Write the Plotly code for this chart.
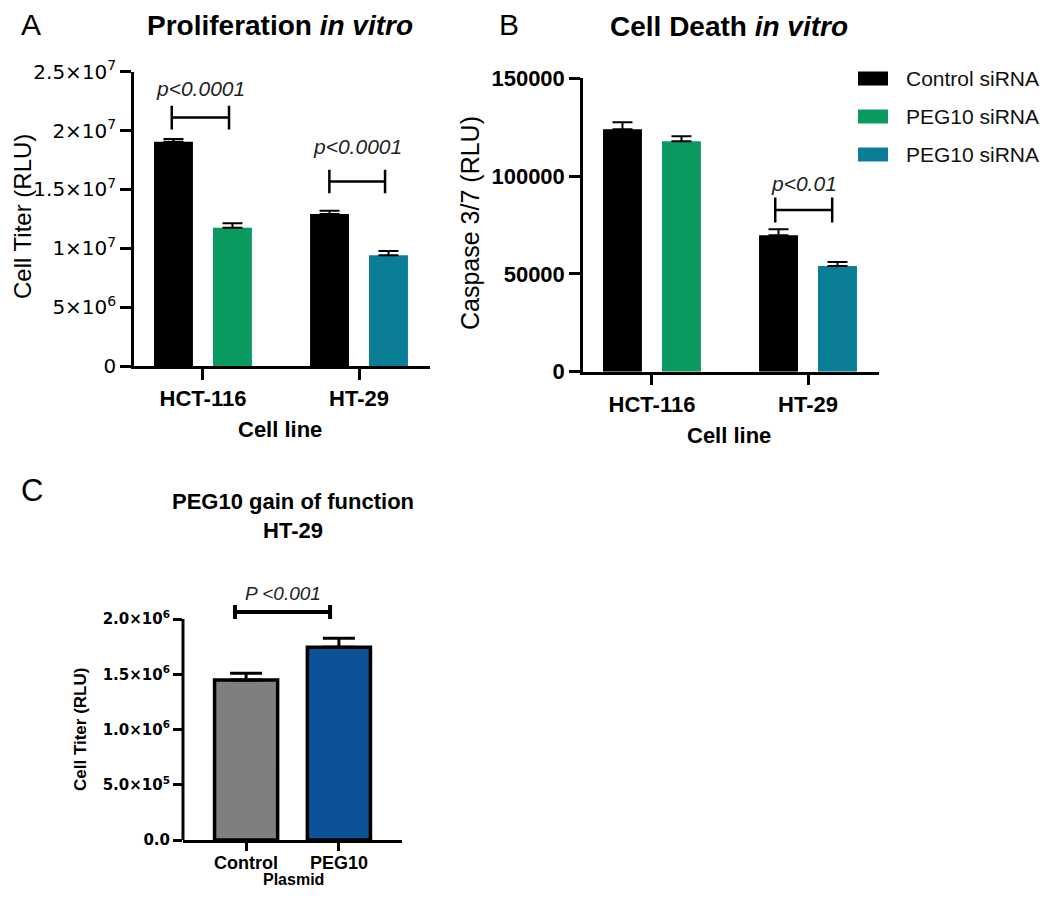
import plotly.graph_objects as go

# The page adds an 8 px body margin, so the figure is sized to fit inside it
OFF = 8
W, H = 1050 - 2 * OFF, 897 - 2 * OFF
FONT = "Liberation Sans"
WIDE = "DejaVu Sans"

# ---------------- data ----------------
cell_lines = ["HCT-116", "HT-29"]
legend_names = ["Control siRNA", "PEG10 siRNA", "PEG10 siRNA"]

# Panel A: proliferation (Cell Titer, RLU)
prolif_control = [1.905e7, 1.291e7]
prolif_control_err = [2.3e5, 2.8e5]
prolif_peg10_hct = [1.175e7]
prolif_peg10_hct_err = [3.7e5]
prolif_peg10_ht = [0.940e7]
prolif_peg10_ht_err = [3.7e5]

# Panel B: cell death (Caspase 3/7, RLU)
death_control = [123900, 69730]
death_control_err = [3600, 3070]
death_peg10_hct = [117800]
death_peg10_hct_err = [2560]
death_peg10_ht = [54040]
death_peg10_ht_err = [2045]

# Panel C: gain of function
plasmids = ["Control", "PEG10"]
gof_values = [1.448e6, 1.744e6]
gof_err = [6.0e4, 8.1e4]

# tick labels
a_tickvals = [0, 5e6, 1e7, 1.5e7, 2e7, 2.5e7]
a_ticktext = ["0", "5×10<sup>6</sup>", "1×10<sup>7</sup>", "1.5×10<sup>7</sup>",
              "2×10<sup>7</sup>", "2.5×10<sup>7</sup>"]
b_tickvals = [0, 50000, 100000, 150000]
b_ticktext = ["0", "50000", "100000", "150000"]
c_tickvals = [0, 5e5, 1e6, 1.5e6, 2e6]
c_ticktext = ["0.0", "5.0×10<sup>5</sup>", "1.0×10<sup>6</sup>",
              "1.5×10<sup>6</sup>", "2.0×10<sup>6</sup>"]

# significance brackets: (x0, x1, y bracket, half tick height, text y, label)
sig_A = [(0 - 0.2, 0 + 0.167, 2.11e7, 1.0e6, 2.36e7, "p<0.0001"),
         (1 - 0.19, 1 + 0.167, 1.568e7, 1.0e6, 1.864e7, "p<0.0001")]
sig_B = [(1 - 0.21, 1 + 0.155, 82670, 6400, 96470, "p<0.01")]
sig_C = [(0 - 0.12, 1 - 0.095, 2.063e6, 6.3e4, 2.235e6, "P <0.001")]

BLACK = "#000000"
GREEN = "#0b9a60"
TEAL = "#0a7e97"
GRAY = "#7f7f7f"
BLUE = "#0b5396"
legend_colors = [BLACK, GREEN, TEAL]


def px_x(p):
    return (p - OFF) / W


def px_y(p):
    return 1 - (p - OFF) / H


fig = go.Figure()


def ebar(arr, thick=2, width=10):
    return dict(type="data", array=arr, arrayminus=[0] * len(arr), symmetric=False,
                color="black", thickness=thick, width=width)


# Panel A
fig.add_trace(go.Bar(x=cell_lines, y=prolif_control, name=legend_names[0],
                     marker=dict(color=BLACK, line=dict(width=0)), offsetgroup="ctrl",
                     error_y=ebar(prolif_control_err), xaxis="x", yaxis="y"))
fig.add_trace(go.Bar(x=[cell_lines[0]], y=prolif_peg10_hct, name=legend_names[1],
                     marker=dict(color=GREEN, line=dict(width=0)), offsetgroup="peg",
                     error_y=ebar(prolif_peg10_hct_err), xaxis="x", yaxis="y"))
fig.add_trace(go.Bar(x=[cell_lines[1]], y=prolif_peg10_ht, name=legend_names[2],
                     marker=dict(color=TEAL, line=dict(width=0)), offsetgroup="peg",
                     error_y=ebar(prolif_peg10_ht_err), xaxis="x", yaxis="y"))
# Panel B
fig.add_trace(go.Bar(x=cell_lines, y=death_control, name=legend_names[0],
                     marker=dict(color=BLACK, line=dict(width=0)), offsetgroup="ctrl",
                     error_y=ebar(death_control_err), xaxis="x2", yaxis="y2"))
fig.add_trace(go.Bar(x=[cell_lines[0]], y=death_peg10_hct, name=legend_names[1],
                     marker=dict(color=GREEN, line=dict(width=0)), offsetgroup="peg",
                     error_y=ebar(death_peg10_hct_err), xaxis="x2", yaxis="y2"))
fig.add_trace(go.Bar(x=[cell_lines[1]], y=death_peg10_ht, name=legend_names[2],
                     marker=dict(color=TEAL, line=dict(width=0)), offsetgroup="peg",
                     error_y=ebar(death_peg10_ht_err), xaxis="x2", yaxis="y2"))
# Panel C
fig.add_trace(go.Bar(x=plasmids, y=gof_values, width=0.68,
                     marker=dict(color=[GRAY, BLUE], line=dict(color="black", width=3.5)),
                     error_y=ebar(gof_err, thick=3, width=16), xaxis="x3", yaxis="y3"))

axis_common = dict(showline=True, linecolor="black", linewidth=2.5, ticks="outside",
                   tickcolor="black", tickwidth=2.5, ticklen=11, showgrid=False,
                   zeroline=False, fixedrange=True)

fig.update_layout(
    width=W, height=H, autosize=False,
    margin=dict(l=0, r=0, t=0, b=0, pad=0, autoexpand=False),
    paper_bgcolor="white", plot_bgcolor="white",
    showlegend=False,
    barmode="group", bargap=0.244, bargroupgap=0.34,
    font=dict(family=FONT, color="black"),
    xaxis=dict(domain=[px_x(134), px_x(430)], anchor="y", type="category",
               range=[-0.442, 1.455],
               tickfont=dict(size=22, weight="bold"), **axis_common),
    yaxis=dict(domain=[px_y(366), px_y(71.7)], anchor="x", range=[0, 2.5e7],
               tickvals=a_tickvals, ticktext=a_ticktext,
               tickfont=dict(size=20, family=WIDE), **axis_common),
    xaxis2=dict(domain=[px_x(583), px_x(879)], anchor="y2", type="category",
                range=[-0.442, 1.455],
                tickfont=dict(size=22, weight="bold"), **axis_common),
    yaxis2=dict(domain=[px_y(371.7), px_y(78.3)], anchor="x2", range=[0, 150000],
                tickvals=b_tickvals, ticktext=b_ticktext,
                tickfont=dict(size=22, weight="bold"), **axis_common),
    xaxis3=dict(domain=[px_x(183), px_x(402)], anchor="y3", type="category",
                range=[-0.68, 1.68], ticklabelstandoff=-4,
                tickfont=dict(size=18, weight="bold"),
                **{**axis_common, "linewidth": 3, "tickwidth": 3, "ticklen": 8}),
    yaxis3=dict(domain=[px_y(840), px_y(585.85)], anchor="x3", range=[0, 2.3e6],
                tickvals=c_tickvals, ticktext=c_ticktext,
                tickfont=dict(size=15, weight="bold", family=WIDE),
                **{**axis_common, "showline": False, "tickwidth": 3, "ticklen": 9}),
)

shapes = []
# C y-axis line only up to the top tick
shapes.append(dict(type="line", xref="x3 domain", yref="y3", x0=0, x1=0, y0=0, y1=2e6,
                   line=dict(color="black", width=3)))


def add_sig(sigs, xr, yr, lw, size):
    for x0, x1, yb, h, yt, label in sigs:
        shapes.append(dict(type="line", xref=xr, yref=yr, x0=x0, x1=x1, y0=yb, y1=yb,
                           line=dict(color="black", width=lw)))
        for xx in (x0, x1):
            shapes.append(dict(type="line", xref=xr, yref=yr, x0=xx, x1=xx,
                               y0=yb - h, y1=yb + h, line=dict(color="black", width=lw)))
        fig.add_annotation(x=(x0 + x1) / 2, y=yt, xref=xr, yref=yr,
                           text="<i>" + label + "</i>", showarrow=False,
                           font=dict(size=size, color="#222222"))


add_sig(sig_A, "x", "y", 2.5, 21)
add_sig(sig_B, "x2", "y2", 2.5, 21)
add_sig(sig_C, "x3", "y3", 4, 19)


def ann(x, y, text, size, angle=0, color="black", xanchor="center"):
    fig.add_annotation(x=px_x(x), y=px_y(y), xref="paper", yref="paper", text=text,
                       showarrow=False, textangle=angle, xanchor=xanchor, yanchor="middle",
                       font=dict(size=size, color=color, family=FONT))


# legend (drawn to match the wide swatches of the original)
for i, (name, col) in enumerate(zip(legend_names, legend_colors)):
    yc = 78.5 + 38 * i
    shapes.append(dict(type="rect", xref="paper", yref="paper",
                       x0=px_x(858), x1=px_x(888), y0=px_y(yc + 7), y1=px_y(yc - 7),
                       fillcolor=col, line=dict(width=0)))
    ann(904, yc, name, 21, color="#111111", xanchor="left")

fig.update_layout(shapes=shapes)

# panel letters
ann(31, 24, "A", 30)
ann(509, 24, "B", 30)
ann(32, 490, "C", 31)
# titles
ann(280, 25, "<b>Proliferation <i>in vitro</i></b>", 28)
ann(729, 27, "<b>Cell Death <i>in vitro</i></b>", 28)
ann(293, 516, "<b>PEG10 gain of function<br>HT-29</b>", 22)
# axis titles
ann(22, 217, "Cell Titer (RLU)", 24, angle=-90)
ann(280, 430, "<b>Cell line</b>", 22)
ann(470, 223, "Caspase 3/7 (RLU)", 25, angle=-90)
ann(729, 435, "<b>Cell line</b>", 22)
ann(80, 730, "<b>Cell Titer (RLU)</b>", 17, angle=-90)
ann(293, 879, "<b>Plasmid</b>", 16)

fig.write_html("out.html")
